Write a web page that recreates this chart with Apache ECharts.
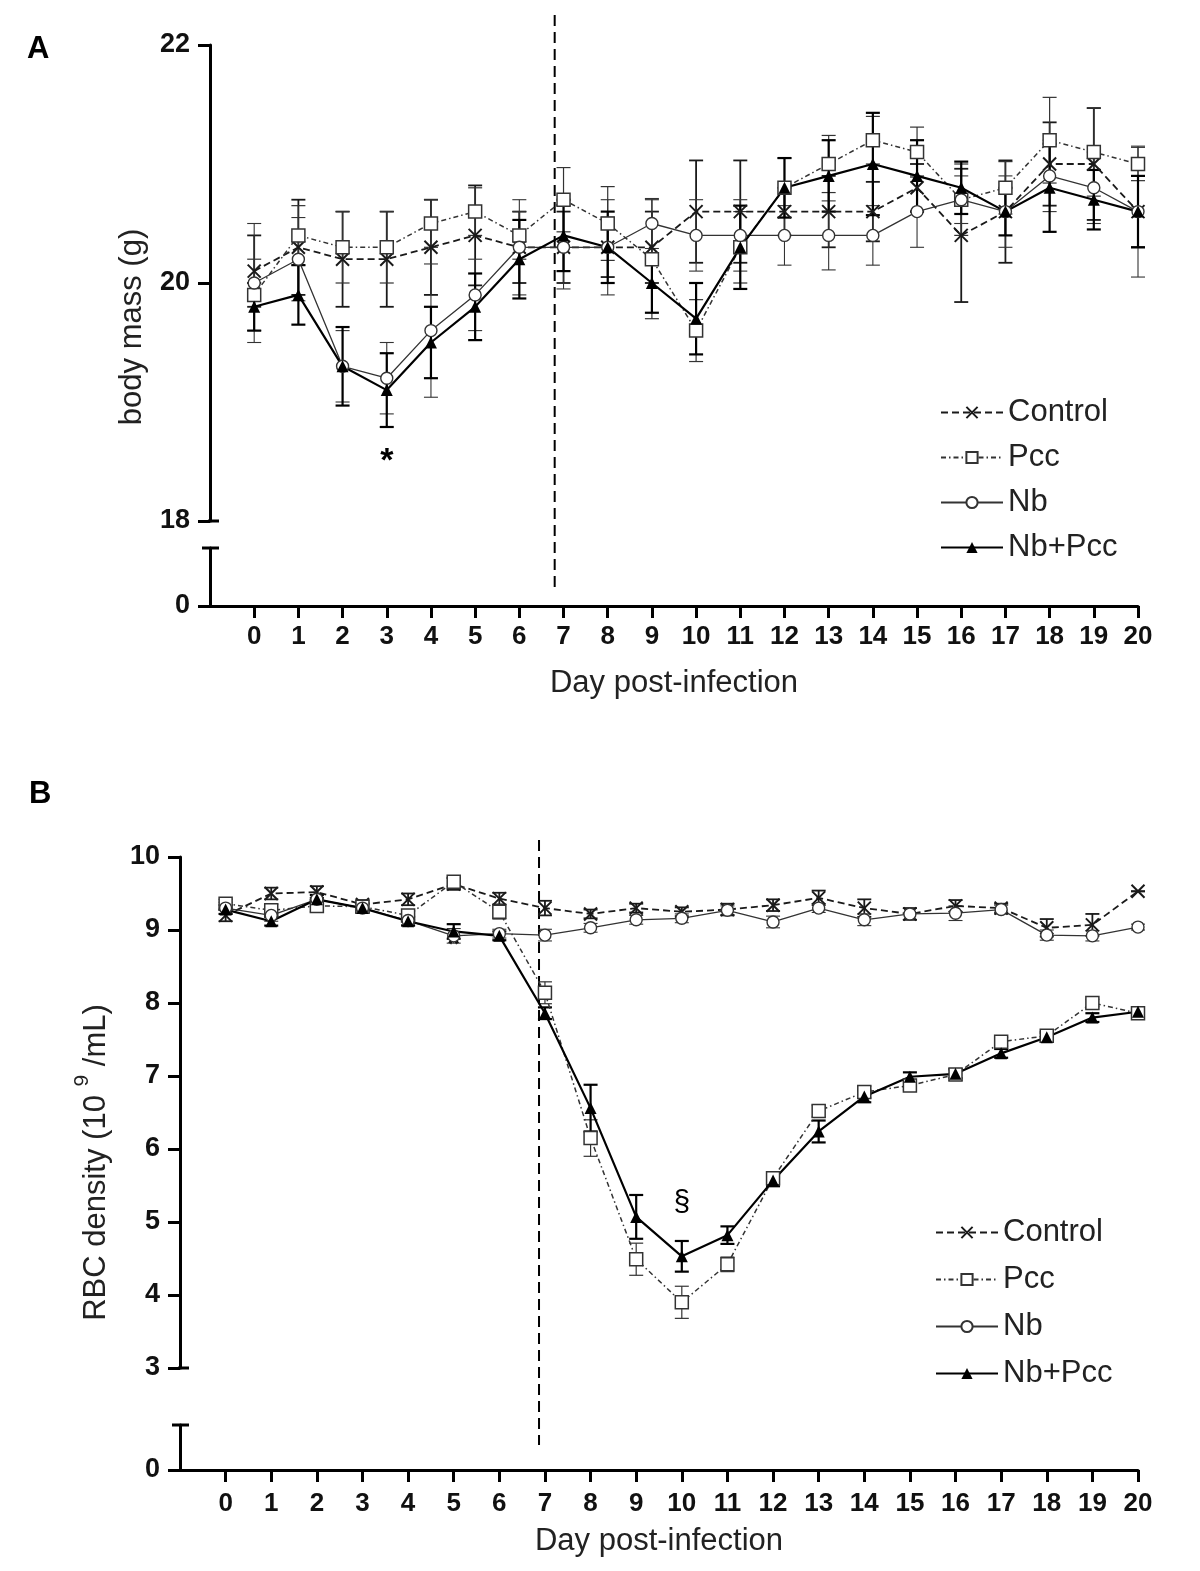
<!DOCTYPE html>
<html><head><meta charset="utf-8">
<script src="https://cdn.jsdelivr.net/npm/echarts@6/dist/echarts.min.js"></script>
<style>html,body{margin:0;padding:0;background:#fff}#c{width:1200px;height:1571px}</style>
</head><body><div id="c"></div>
<script>
// ---------- data ----------
const days = [0,1,2,3,4,5,6,7,8,9,10,11,12,13,14,15,16,17,18,19,20];
const seriesNames = ['Control','Pcc','Nb','Nb+Pcc'];
const massTicks = [18,20,22];
const rbcTicks = [3,4,5,6,7,8,9,10];

// Panel A: body mass (g)
const massControl = [20.1,20.3,20.2,20.2,20.3,20.4,20.3,20.3,20.3,20.3,20.6,20.6,20.6,20.6,20.6,20.8,20.4,20.6,21.0,21.0,20.6];
const massPcc     = [19.9,20.4,20.3,20.3,20.5,20.6,20.4,20.7,20.5,20.2,19.6,20.3,20.8,21.0,21.2,21.1,20.7,20.8,21.2,21.1,21.0];
const massNb      = [20.0,20.2,19.3,19.2,19.6,19.9,20.3,20.3,20.3,20.5,20.4,20.4,20.4,20.4,20.4,20.6,20.7,20.6,20.9,20.8,20.6];
const massNbPcc   = [19.8,19.9,19.3,19.1,19.5,19.8,20.2,20.4,20.3,20.0,19.7,20.3,20.8,20.9,21.0,20.9,20.8,20.6,20.8,20.7,20.6];
const massErrControl = [0.3,0.4,0.4,0.4,0.4,0.42,0.3,0.3,0.25,0.3,0.43,0.43,0.2,0.3,0.25,0.2,0.56,0.43,0.35,0.47,0.3];
const massErrPcc     = [0.3,0.25,0.3,0.3,0.2,0.2,0.2,0.27,0.31,0.5,0.26,0.3,0.25,0.24,0.2,0.21,0.3,0.22,0.36,0.37,0.14];
const massErrNb      = [0.5,0.35,0.3,0.3,0.56,0.3,0.4,0.35,0.4,0.21,0.3,0.3,0.25,0.29,0.25,0.3,0.2,0.3,0.3,0.3,0.55];
const massErrNbPcc   = [0.2,0.25,0.33,0.31,0.3,0.28,0.33,0.3,0.3,0.25,0.3,0.35,0.25,0.3,0.43,0.3,0.22,0.2,0.37,0.25,0.3];

// Panel B: RBC density (10^9/mL)
const rbcControl = [9.2,9.5,9.52,9.35,9.42,9.63,9.43,9.3,9.22,9.3,9.25,9.28,9.34,9.44,9.3,9.22,9.33,9.3,9.03,9.07,9.53];
const rbcPcc     = [9.36,9.27,9.33,9.32,9.2,9.66,9.25,8.14,6.15,4.49,3.9,4.42,5.6,6.52,6.78,6.87,7.02,7.47,7.55,8.0,7.86];
const rbcNb      = [9.3,9.2,9.42,9.3,9.13,8.92,8.95,8.93,9.03,9.14,9.16,9.27,9.11,9.3,9.14,9.22,9.23,9.28,8.93,8.92,9.04];
const rbcNbPcc   = [9.28,9.12,9.42,9.3,9.12,8.98,8.92,7.86,6.56,5.07,4.53,4.82,5.57,6.24,6.72,6.99,7.03,7.31,7.53,7.8,7.88];
const rbcErrControl = [0.08,0.08,0.08,0.06,0.08,0.08,0.08,0.1,0.06,0.06,0.06,0.08,0.08,0.1,0.12,0.08,0.08,0.06,0.12,0.15,0.0];
const rbcErrPcc     = [0.06,0.08,0.08,0.06,0.06,0.06,0.1,0.15,0.25,0.22,0.22,0.1,0.08,0.08,0.08,0.06,0.08,0.06,0.06,0.05,0.06];
const rbcErrNb      = [0.08,0.08,0.06,0.06,0.06,0.1,0.06,0.08,0.06,0.06,0.06,0.06,0.08,0.06,0.08,0.08,0.1,0.06,0.07,0.07,0.04];
const rbcErrNbPcc   = [0.06,0.06,0.06,0.06,0.06,0.1,0.06,0.08,0.32,0.3,0.21,0.12,0.08,0.15,0.08,0.06,0.06,0.06,0.06,0.06,0.06];

// ---------- styles ----------
const FONT = 'Liberation Sans, Arial, sans-serif';
const INK = '#1a1a1a';
const styles = {
  'Control': {symbol:'path://M0,0L10,10M10,0L0,10', size:13, item:{color:'none',borderColor:INK,borderWidth:2}, line:{color:INK,width:1.8,type:[7,4]}, errW:1.8},
  'Pcc':     {symbol:'rect', size:13, item:{color:'#fff',borderColor:'#333',borderWidth:1.5}, line:{color:'#333',width:1.5,type:[5,3,1.5,3]}, errW:1.2},
  'Nb':      {symbol:'circle', size:12, item:{color:'#fff',borderColor:'#333',borderWidth:1.4}, line:{color:'#333',width:1.3,type:'solid'}, errW:1.1},
  'Nb+Pcc':  {symbol:'triangle', size:12, item:{color:'#000',borderColor:'#000',borderWidth:0}, line:{color:'#000',width:2.2,type:'solid'}, errW:2.2}
};

function lineSeries(name, xi, yi, vals){
  const s = styles[name];
  return {type:'line', name:name, xAxisIndex:xi, yAxisIndex:yi, z:3,
    data: days.map((d,i)=>[d, vals[i]]),
    symbol:s.symbol, symbolSize:s.size, showAllSymbol:true,
    itemStyle:s.item, lineStyle:s.line, emphasis:{disabled:true}};
}
function errSeries(name, xi, yi, vals, errs){
  const s = styles[name];
  return {type:'custom', name:'err '+name, xAxisIndex:xi, yAxisIndex:yi, z:2, silent:true,
    data: days.map((d,i)=>[d, vals[i]-errs[i], vals[i]+errs[i]]),
    encode:{x:0, y:[1,2]},
    renderItem:(params, api)=>{
      const lo = api.coord([api.value(0), api.value(1)]);
      const hi = api.coord([api.value(0), api.value(2)]);
      const h = 7;
      const st = {stroke:s.line.color, lineWidth:s.errW};
      return {type:'group', children:[
        {type:'line', shape:{x1:lo[0],y1:lo[1],x2:hi[0],y2:hi[1]}, style:st},
        {type:'line', shape:{x1:lo[0]-h,y1:lo[1],x2:lo[0]+h,y2:lo[1]}, style:st},
        {type:'line', shape:{x1:hi[0]-h,y1:hi[1],x2:hi[0]+h,y2:hi[1]}, style:st}
      ]};
    }};
}

const axisLineStyle = {color:'#000', width:3};
function xAxisVisible(grid, gap, margin){
  return {type:'value', gridIndex:grid, min:-1, max:20, interval:1,
    axisLine:{show:true, onZero:false, lineStyle:axisLineStyle},
    axisTick:{show:true, customValues:days, length:12, lineStyle:{color:'#000', width:3}},
    axisLabel:{customValues:days, fontSize:26, fontWeight:'bold', color:'#111', margin:margin, fontFamily:FONT},
    splitLine:{show:false},
    name:'Day post-infection', nameLocation:'middle', nameGap:gap,
    nameTextStyle:{fontSize:31, color:'#222', fontFamily:FONT}};
}
function xAxisHidden(grid){
  return {type:'value', gridIndex:grid, min:-1, max:20, show:false};
}
function yAxisMain(grid, min, max, interval, name, nameGap, pad, extra){
  return Object.assign({type:'value', gridIndex:grid, min:min, max:max, interval:interval,
    axisLine:{show:true, onZero:false, lineStyle:axisLineStyle},
    axisTick:{show:true, length:12, lineStyle:{color:'#000', width:3}},
    axisLabel:{fontSize:27, fontWeight:'bold', color:'#111', margin:20, fontFamily:FONT},
    splitLine:{show:false},
    name:name, nameLocation:'middle', nameGap:nameGap,
    nameTextStyle:{fontSize:31, color:'#222', fontFamily:FONT, padding:pad}}, extra||{});
}
function yAxisZero(grid){
  return {type:'value', gridIndex:grid, min:0, max:1,
    axisLine:{show:true, onZero:false, lineStyle:axisLineStyle},
    axisTick:{show:true, customValues:[0], length:12, lineStyle:{color:'#000', width:3}},
    axisLabel:{customValues:[0], fontSize:27, fontWeight:'bold', color:'#111', margin:20, fontFamily:FONT},
    splitLine:{show:false}};
}

const legendCommon = {orient:'vertical', data:seriesNames, itemWidth:62, itemHeight:14,
  textStyle:{fontSize:31, color:'#222', fontFamily:FONT}, selectedMode:false};

const option = {
  animation:false,
  backgroundColor:'#fff',
  grid:[
    {left:210, top:45, width:928, height:476},
    {left:210, top:548, width:928, height:58},
    {left:180, top:857, width:958, height:511},
    {left:180, top:1425, width:958, height:45}
  ],
  xAxis:[xAxisHidden(0), xAxisVisible(1,62,18), xAxisHidden(2), xAxisVisible(3,56,21)],
  yAxis:[
    yAxisMain(0, 18, 22, 2, 'body mass (g)', 62, [0,88,0,0]),
    yAxisZero(1),
    yAxisMain(2, 3, 10, 1, '{a|RBC density (10 }{s|9}{a| /mL)}', 68, [0,100,0,0], {}),
    yAxisZero(3)
  ],
  legend:[
    Object.assign({left:935, top:392, itemGap:14}, legendCommon),
    Object.assign({left:930, top:1212, itemGap:16}, legendCommon)
  ],
  series:[
    errSeries('Control',0,0,massControl,massErrControl),
    errSeries('Pcc',0,0,massPcc,massErrPcc),
    errSeries('Nb',0,0,massNb,massErrNb),
    errSeries('Nb+Pcc',0,0,massNbPcc,massErrNbPcc),
    lineSeries('Control',0,0,massControl),
    lineSeries('Pcc',0,0,massPcc),
    lineSeries('Nb',0,0,massNb),
    lineSeries('Nb+Pcc',0,0,massNbPcc),
    errSeries('Control',2,2,rbcControl,rbcErrControl),
    errSeries('Pcc',2,2,rbcPcc,rbcErrPcc),
    errSeries('Nb',2,2,rbcNb,rbcErrNb),
    errSeries('Nb+Pcc',2,2,rbcNbPcc,rbcErrNbPcc),
    lineSeries('Control',2,2,rbcControl),
    lineSeries('Pcc',2,2,rbcPcc),
    lineSeries('Nb',2,2,rbcNb),
    lineSeries('Nb+Pcc',2,2,rbcNbPcc)
  ]
};
option.yAxis[2].nameTextStyle.rich = {
  a:{fontSize:31, color:'#222', fontFamily:FONT, lineHeight:40, verticalAlign:'bottom'},
  s:{fontSize:21, color:'#222', fontFamily:FONT, lineHeight:40, verticalAlign:'top'}
};

const chart = echarts.init(document.getElementById('c'), null, {renderer:'canvas'});
chart.setOption(option);

// ---------- decorations placed through the axes ----------
function px(xi, yi, x, y){ return chart.convertToPixel({xAxisIndex:xi, yAxisIndex:yi}, [x, y]); }
const g = [];
g.push({type:'text', left:27, top:34, style:{text:'A', font:'bold 31px '+FONT, fill:'#000'}});
g.push({type:'text', left:29, top:779, style:{text:'B', font:'bold 31px '+FONT, fill:'#000'}});
[[0,1],[2,3]].forEach(([up,low])=>{
  const b = px(up, up, -1, up===0?18:3);
  const t = px(low, low, -1, 1);
  g.push({type:'line', shape:{x1:b[0]-2,y1:b[1],x2:b[0]+9,y2:b[1]}, style:{stroke:'#000', lineWidth:3}});
  g.push({type:'line', shape:{x1:t[0]-8,y1:t[1],x2:t[0]+9,y2:t[1]}, style:{stroke:'#000', lineWidth:3}});
});
const dA = px(0,0,6.8,22);
g.push({type:'line', shape:{x1:dA[0],y1:15,x2:dA[0],y2:590}, style:{stroke:'#000', lineWidth:2, lineDash:[11,6]}});
const dB = px(2,2,6.87,10);
g.push({type:'line', shape:{x1:dB[0],y1:840,x2:dB[0],y2:1445}, style:{stroke:'#000', lineWidth:2, lineDash:[11,6]}});
const sA = px(0,0,3,18.5);
g.push({type:'text', x:sA[0], y:sA[1], style:{text:'*', font:'bold 34px '+FONT, fill:'#000', align:'center', verticalAlign:'middle'}});
const sB = px(2,2,5,8.78);
g.push({type:'text', x:sB[0], y:sB[1], style:{text:'*', font:'bold 34px '+FONT, fill:'#000', align:'center', verticalAlign:'middle'}});
const sC = px(2,2,10,5.27);
g.push({type:'text', x:sC[0], y:sC[1], style:{text:'§', font:'30px '+FONT, fill:'#000', align:'center', verticalAlign:'middle'}});
chart.setOption({graphic:g});
</script></body></html>
